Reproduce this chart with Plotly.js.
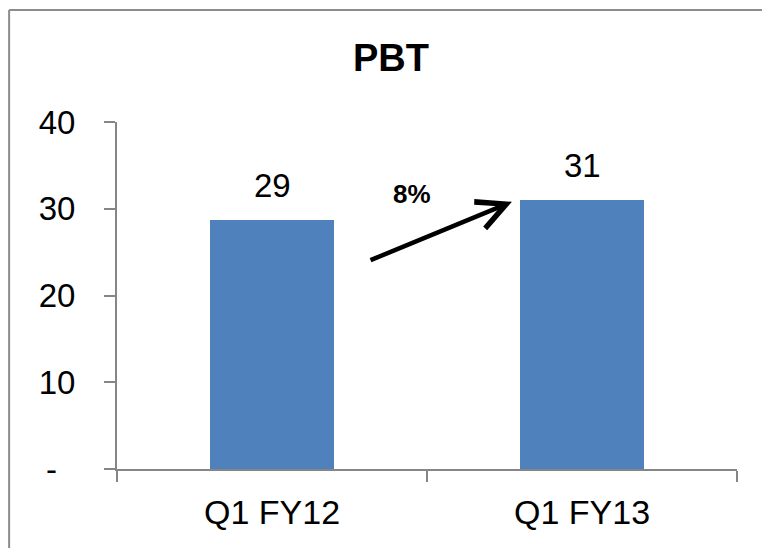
<!DOCTYPE html>
<html>
<head>
<meta charset="utf-8">
<script src="https://cdn.plot.ly/plotly-3.0.1.min.js"></script>
<style>html,body{margin:0;padding:0;background:#fff;}#chart{width:762px;height:548px;}</style>
</head>
<body>
<div id="chart"></div>
<script>
const categories = ["Q1 FY12", "Q1 FY13"];
const pbtValues = [28.7, 31.0];
const yTickValues = [0, 10, 20, 30, 40];
const yTickLabels = ["-\u00a0\u00a0", "10", "20", "30", "40"];
const growthLabel = "8%";
const chartTitle = "PBT";

const FONT = "Liberation Sans, Arial, sans-serif";
const AXIS = "#868686";

const trace = {
  type: "bar",
  x: categories,
  y: pbtValues,
  width: 0.4,
  marker: {color: "#4F81BD", line: {width: 0}},
  hoverinfo: "skip"
};

const valueAnnotations = categories.map((c, i) => ({
  x: c, y: pbtValues[i], xref: "x", yref: "y",
  text: String(Math.round(pbtValues[i])),
  showarrow: false, yanchor: "bottom", yshift: 14,
  font: {family: FONT, size: 33, color: "#000"}
}));

const layout = {
  width: 762, height: 548,
  margin: {l: 117, r: 25, t: 122, b: 79},
  paper_bgcolor: "#fff", plot_bgcolor: "#fff",
  showlegend: false,
  title: {text: "<b>" + chartTitle + "</b>", font: {family: FONT, size: 38, color: "#000"},
          x: 0.513, xanchor: "center", y: 0.895, yanchor: "middle", yref: "container"},
  xaxis: {
    type: "category", range: [-0.5, 1.5],
    showline: true, linecolor: AXIS, linewidth: 2,
    ticks: "outside", tickson: "boundaries", ticklen: 11, tickwidth: 2, tickcolor: AXIS,
    showgrid: false, zeroline: false,
    tickfont: {family: FONT, size: 34, color: "#000"},
    ticklabelstandoff: 12
  },
  yaxis: {
    range: [0, 40], tickvals: yTickValues, ticktext: yTickLabels,
    showline: true, linecolor: AXIS, linewidth: 2,
    ticks: "outside", ticklen: 11, tickwidth: 2, tickcolor: AXIS,
    showgrid: false, zeroline: false,
    tickfont: {family: FONT, size: 33, color: "#000"},
    ticklabelstandoff: 22
  },
  annotations: valueAnnotations.concat([
    {x: 0.774, y: 30.8, xref: "x", yref: "y", ax: 0.313, ay: 24.0, axref: "x", ayref: "y",
     text: "", showarrow: true, arrowhead: 5, arrowsize: 1.25, arrowwidth: 4.5, arrowcolor: "#000"},
    {x: 0.45, y: 31.7, xref: "x", yref: "y", text: "<b>" + growthLabel + "</b>", showarrow: false,
     font: {family: FONT, size: 26, color: "#000"}}
  ]),
  shapes: [
    {type: "line", xref: "paper", yref: "paper", x0: -0.174, x1: 1.1, y0: 1.3228, y1: 1.3228,
     line: {color: "#8c8c8c", width: 2}},
    {type: "line", xref: "paper", yref: "paper", x0: -0.174, x1: -0.174, y0: 1.3228, y1: -0.3,
     line: {color: "#8c8c8c", width: 2}}
  ]
};

Plotly.newPlot("chart", [trace], layout, {staticPlot: true, displayModeBar: false});
</script>
</body>
</html>
